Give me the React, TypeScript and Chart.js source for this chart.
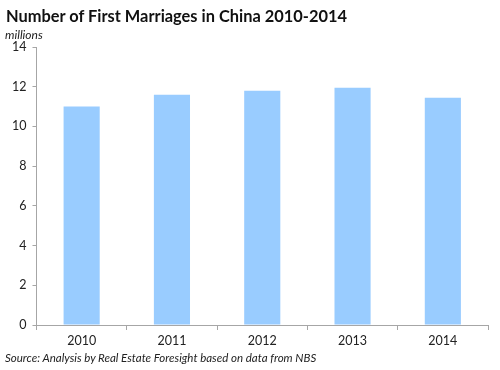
import React, { useEffect, useRef } from "react";
import { Chart, registerables } from "chart.js";

Chart.register(...registerables);

const categories = ["2010", "2011", "2012", "2013", "2014"];
const marriages = [11.0, 11.6, 11.8, 11.95, 11.45];
const yTicks = [0, 2, 4, 6, 8, 10, 12, 14];

const FONT = "Lato, 'Open Sans', sans-serif";

export default function App() {
  const ref = useRef<HTMLCanvasElement | null>(null);

  useEffect(() => {
    if (!ref.current) return;
    const chart = new Chart(ref.current, {
      type: "bar",
      data: {
        labels: categories,
        datasets: [
          {
            data: marriages,
            backgroundColor: "#99CCFF",
            borderWidth: 0,
            barPercentage: 0.8,
            categoryPercentage: 0.5,
          },
        ],
      },
      options: {
        animation: false,
        responsive: false,
        layout: { padding: { top: 47, right: 12, bottom: 19, left: 6 } },
        plugins: { legend: { display: false }, tooltip: { enabled: false } },
        scales: {
          x: {
            offset: true,
            grid: {
              offset: true,
              drawOnChartArea: false,
              drawTicks: true,
              tickLength: 5,
              color: "#a6a6a6",
            },
            border: { color: "#a6a6a6", width: 1 },
            ticks: { color: "#222", font: { family: FONT, size: 12.5 }, padding: 3 },
          },
          y: {
            min: 0,
            max: 14,
            afterBuildTicks: (axis: any) => {
              axis.ticks = yTicks.map((v) => ({ value: v }));
            },
            grid: {
              drawOnChartArea: false,
              drawTicks: true,
              tickLength: 4,
              color: "#a6a6a6",
            },
            border: { color: "#a6a6a6", width: 1 },
            ticks: { color: "#222", font: { family: FONT, size: 12.5 }, padding: 6 },
          },
        },
      },
    });
    return () => chart.destroy();
  }, []);

  return (
    <div style={{ position: "fixed", left: 0, top: 0, width: 500, height: 370, background: "#fff" }}>
      <canvas ref={ref} width={500} height={370} style={{ position: "absolute", left: 0, top: 0 }} />
      <div
        style={{
          position: "absolute",
          left: 6,
          top: 6,
          fontFamily: FONT,
          fontWeight: 700,
          fontSize: 16.4,
          color: "#111",
          whiteSpace: "nowrap",
        }}
      >
        Number of First Marriages in China 2010-2014
      </div>
      <div
        style={{
          position: "absolute",
          left: 5,
          top: 27,
          fontFamily: FONT,
          fontStyle: "italic",
          fontSize: 12,
          color: "#222",
        }}
      >
        millions
      </div>
      <div
        style={{
          position: "absolute",
          left: 5,
          top: 351,
          fontFamily: FONT,
          fontStyle: "italic",
          fontSize: 11.5,
          color: "#222",
          whiteSpace: "nowrap",
        }}
      >
        Source: Analysis by Real Estate Foresight based on data from NBS
      </div>
    </div>
  );
}
